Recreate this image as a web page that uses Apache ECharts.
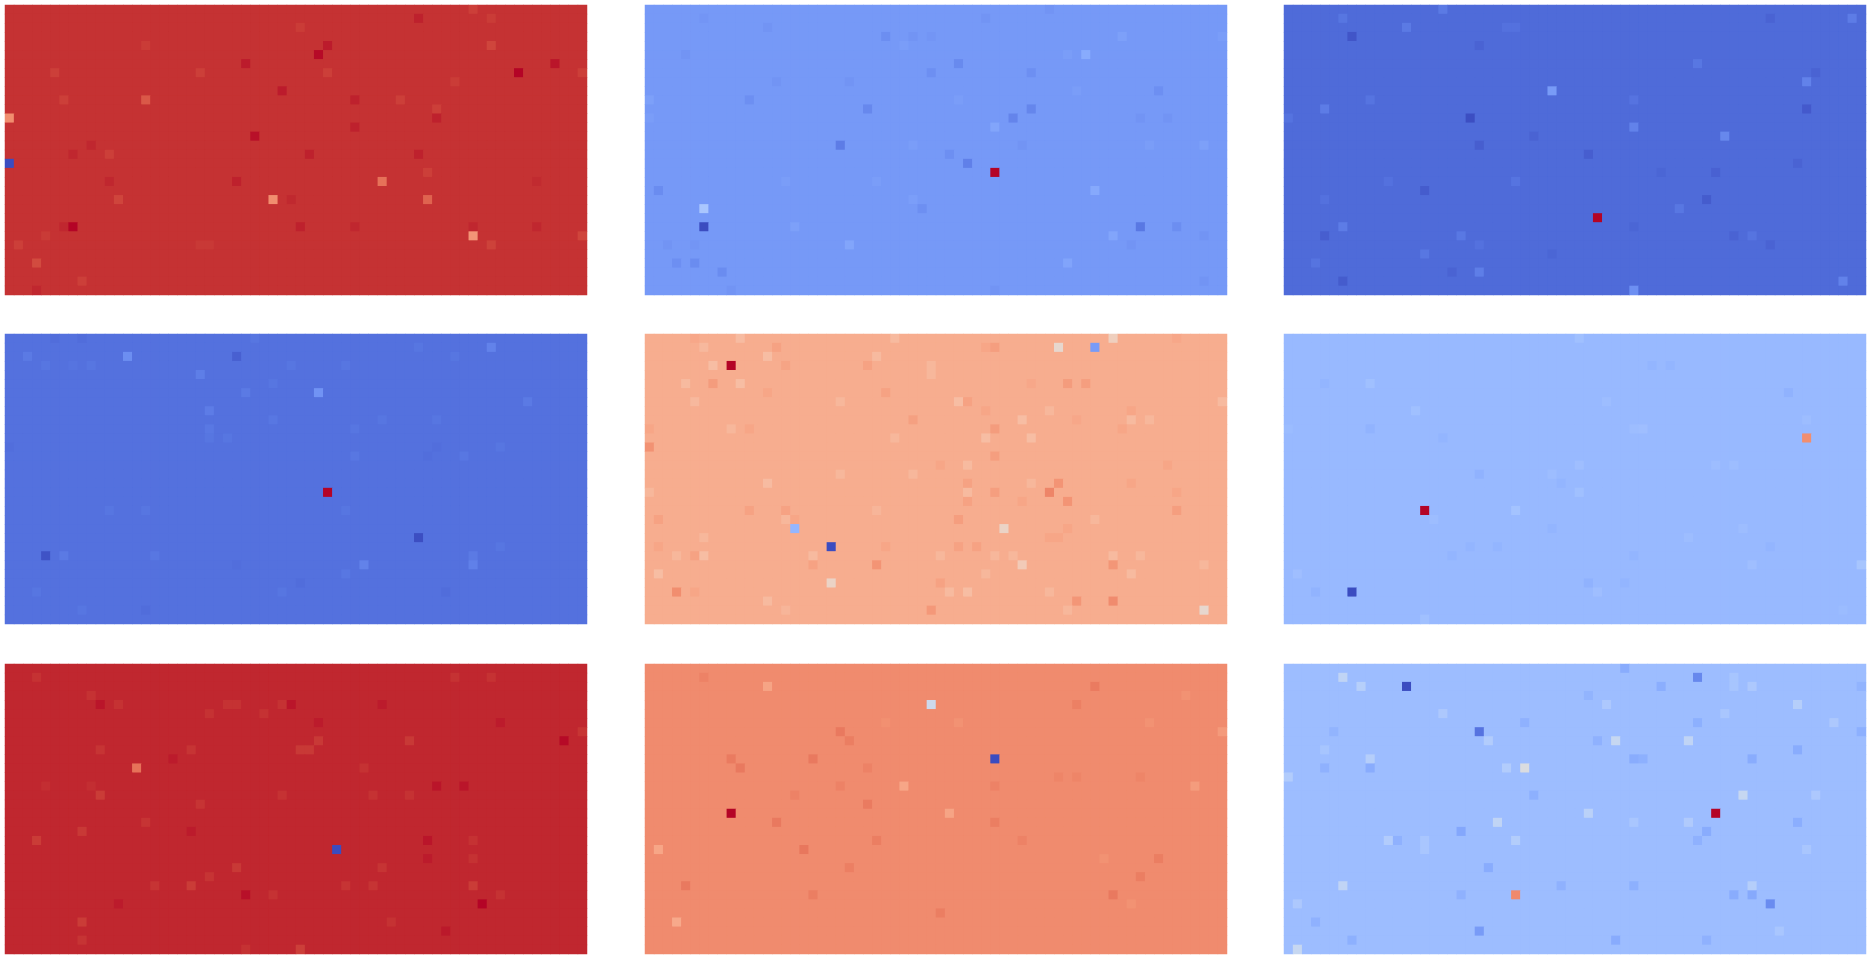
<!DOCTYPE html>
<html>
<head>
<meta charset="utf-8">
<title>heatmaps</title>
<script src="https://cdn.jsdelivr.net/npm/echarts@6/dist/echarts.min.js"></script>
<style>
  html, body { margin: 0; padding: 0; background: #fff; }
  #chart { width: 1875px; height: 961px; }
</style>
</head>
<body>
<div id="chart"></div>
<script>
// matplotlib coolwarm, 0 -> 1
const coolwarm = [
  '#3b4cc0','#445acc','#4d68d7','#5775e1','#6282ea','#6c8ef1','#779af7','#82a5fb',
  '#8db0fe','#98b9ff','#a3c2ff','#aec9fd','#b8d0f9','#c2d5f4','#ccd9ee','#d5dbe6',
  '#dddddd','#e5d8d1','#ecd3c5','#f1ccb9','#f5c4ad','#f7bba0','#f7b194','#f7a687',
  '#f49a7b','#f18d6f','#ec7f63','#e57058','#de604d','#d55042','#cb3e38','#c0282f',
  '#b40426'
]

const colCount = 64
const rowCount = 32

// the value most cells of each panel sit at
const panelBase = [0.955, 0.185, 0.07, 0.085, 0.70, 0.28, 0.97, 0.785, 0.295]

// cells that differ from the base: [col, row, value]
const panel1Cells = [
  [0,12,.78],[0,17,0],[51,25,.76],[29,21,.78],[41,19,.84],[46,21,.87],[15,10,.89],[7,24,1],[56,7,1],[34,5,.995],
  [27,14,.99],[35,4,.98],[60,6,.985],[26,6,.98],[30,9,.98],[38,10,.975],[38,13,.975],[47,12,.975],[45,1,.975],[45,16,.975],
  [33,16,.975],[25,19,.975],[11,19,.97],[9,15,.97],[7,16,.97],[32,24,.975],[38,24,.97],[51,24,.97],[58,24,.97],[6,24,.97],
  [3,31,.97],[31,21,.968],[58,19,.965],[51,0,.935],[53,1,.94],[32,2,.94],[53,4,.925],[15,4,.94],[5,7,.935],[21,7,.935],
  [35,7,.935],[49,8,.94],[63,7,.935],[6,10,.935],[43,10,.935],[47,11,.935],[11,16,.935],[46,18,.935],[12,21,.925],[63,25,.925],
  [53,26,.93],[1,26,.935],[3,28,.915],[8,30,.935],[4,25,.942],[21,26,.945],[22,26,.945]
]
const panel2Cells = [
  [38,18,1],[6,24,0],[6,22,.33],[54,24,.10],[35,17,.12],[21,15,.11],[40,12,.13],[42,11,.135],[24,11,.14],[1,20,.15],
  [34,6,.145],[26,3,.155],[31,7,.16],[42,7,.16],[48,5,.235],[49,20,.23],[51,25,.22],[22,26,.22],[38,13,.22],[0,10,.205],
  [58,24,.155],[30,22,.16],[5,28,.15],[3,28,.16],[8,29,.15],[46,28,.215],[33,16,.16],[16,24,.205],[56,9,.16],[11,10,.16],
  [61,15,.205],[52,3,.205],[63,3,.197],[46,5,.197],[28,4,.197],[29,3,.172],[31,3,.175],[37,1,.172],[44,0,.172],[54,12,.172],
  [57,12,.172],[61,25,.172],[53,26,.172],[2,26,.172],[5,26,.175],[14,8,.172],[22,8,.172],[4,5,.172],[13,2,.172],[6,1,.175],
  [38,31,.172],[9,31,.172],[61,30,.172],[41,15,.172],[55,15,.197],[47,9,.197],[25,19,.197],[15,19,.197],[0,12,.197],[29,21,.2],
  [29,15,.197],[34,10,.197]
]
const panel3Cells = [
  [34,23,1],[29,9,.19],[20,12,.005],[7,3,.02],[57,11,.03],[46,21,.035],[33,16,.04],[21,15,.04],[21,4,.052],[6,30,.035],
  [4,25,.04],[15,20,.035],[27,14,.052],[47,18,.047],[41,18,.057],[56,17,.052],[58,7,.052],[53,26,.052],[49,25,.052],[18,29,.052],
  [53,1,.052],[29,27,.057],[38,24,.057],[48,14,.14],[38,13,.125],[38,31,.16],[57,8,.125],[21,29,.115],[61,30,.125],[6,24,.11],
  [19,25,.1],[17,0,.105],[62,1,.11],[6,1,.095],[13,2,.105],[4,11,.11],[9,10,.092],[15,27,.098],[3,28,.092],[25,19,.092],
  [11,19,.085],[43,22,.098],[45,6,.098],[51,25,.092],[38,10,.09],[4,21,.085],[0,12,.088],[21,26,.085],[24,2,.085],[25,2,.085]
]
const panel4Cells = [
  [35,17,1],[45,22,.005],[4,24,.015],[25,2,.045],[34,6,.17],[13,2,.155],[53,1,.125],[21,4,.115],[22,8,.11],[39,25,.125],
  [51,25,.12],[2,2,.105],[26,6,.105],[22,10,.1],[57,7,.105],[6,24,.105],[16,24,.098],[5,0,.075],[8,0,.075],[0,12,.078],
  [47,12,.078],[46,13,.078],[48,28,.075],[15,30,.075],[32,27,.075],[25,25,.078],[51,24,.105],[37,26,.098],[30,28,.095],[3,28,.095],
  [8,30,.095],[54,12,.095],[47,9,.095],[41,9,.095],[29,9,.098],[38,10,.095],[29,5,.095],[37,3,.095],[31,3,.095],[9,3,.095],
  [4,3,.095],[7,3,.092],[22,11,.095],[24,11,.095],[11,19,.095],[15,19,.095],[37,19,.095],[45,1,.095],[49,2,.095],[27,0,.095],
  [38,13,.098],[50,13,.098],[54,23,.095]
]
const panel5Cells = [
  [9,3,1],[20,23,0],[49,1,.19],[16,21,.27],[45,1,.54],[51,0,.58],[39,21,.56],[20,27,.56],[61,30,.54],[41,25,.6],
  [0,12,.77],[44,17,.80],[45,16,.765],[46,18,.765],[3,28,.78],[25,25,.765],[51,25,.76],[51,29,.785],[47,29,.76],[31,30,.755],
  [7,5,.745],[46,5,.745],[48,5,.74],[38,10,.745],[38,13,.74],[38,1,.74],[37,1,.72],[24,3,.73],[14,1,.73],[15,3,.725],
  [29,9,.735],[26,6,.73],[13,6,.72],[35,7,.73],[37,8,.72],[53,8,.72],[0,10,.72],[11,10,.72],[11,19,.73],[15,19,.73],
  [1,20,.73],[34,20,.74],[16,20,.72],[1,23,.72],[5,24,.73],[34,23,.73],[36,23,.73],[18,25,.73],[26,23,.72],[32,27,.73],
  [5,28,.72],[58,19,.74],[35,18,.73],[38,17,.74],[35,16,.73],[41,18,.72],[58,17,.72],[57,14,.72],[53,16,.72],[52,10,.72],
  [47,9,.715],[42,5,.715],[58,0,.715],[5,0,.715],[32,14,.72],[44,22,.72],[45,22,.72],[46,21,.72],
  [10,0,.655],[6,1,.665],[13,2,.65],[7,3,.65],[25,2,.66],[10,5,.65],[4,5,.66],[5,7,.665],[34,7,.65],[21,7,.67],
  [27,0,.66],[31,3,.67],[31,4,.67],[63,7,.66],[44,8,.67],[41,9,.65],[53,9,.66],[55,9,.67],[37,11,.65],[42,11,.65],
  [9,10,.67],[27,11,.67],[35,14,.66],[21,15,.67],[29,15,.67],[13,16,.655],[0,17,.67],[35,17,.66],[42,16,.67],[25,19,.675],
  [15,20,.67],[49,20,.67],[6,22,.67],[6,24,.65],[3,24,.67],[18,24,.66],[32,24,.67],[38,24,.67],[40,24,.67],[51,24,.66],
  [54,24,.67],[1,26,.65],[53,26,.66],[37,26,.67],[13,29,.66],[33,28,.66],[35,28,.65],[44,28,.67],[46,30,.67],[61,25,.67],
  [15,30,.675]
]
const panel6Cells = [
  [15,19,1],[7,28,0],[57,11,.78],[21,15,.258],[33,27,.258],[55,6,.258],[9,10,.262],[25,19,.315],[63,25,.325],[32,0,.305],
  [32,17,.305],[32,14,.3],[9,5,.305],[14,8,.305],[39,10,.3],[38,10,.295],[47,14,.295],[49,14,.295],[3,28,.262],[37,27,.268],
  [34,28,.3],[1,26,.3],[15,31,.305],[51,25,.3],[57,9,.295],[35,7,.295],[50,21,.295],[44,22,.295],[29,15,.295],[30,16,.268],
  [29,21,.268],[4,5,.268],[17,11,.268],[42,3,.268],[40,3,.268],[53,23,.268],[38,24,.268],[18,24,.268],[20,23,.268],[23,23,.268],
  [61,30,.29],[0,10,.29],[16,20,.295]
]
const panel7Cells = [
  [36,20,0],[52,26,1],[14,11,.84],[61,8,.995],[26,25,.99],[47,13,.985],[50,13,.985],[31,4,.985],[10,4,.985],[46,19,.985],
  [48,29,.982],[46,21,.98],[54,6,.98],[34,6,.98],[41,4,.98],[12,26,.98],[20,18,.98],[18,10,.98],
  [32,31,.935],[3,19,.94],[8,28,.94],[8,18,.945],[10,14,.94],[20,24,.94],[51,24,.94],[25,22,.945],[32,9,.945],[33,9,.945],
  [34,8,.945],[44,8,.945],[63,7,.95],[39,11,.955],[16,24,.952],[37,24,.952],[40,24,.952],[41,22,.952],[22,23,.952],[20,9,.952],
  [10,9,.952],[53,1,.955],[49,1,.955],[3,1,.955],[24,4,.955],[25,4,.955],[22,5,.955],[28,5,.955],[30,4,.955],[12,4,.955],
  [9,3,.955],[21,15,.952],[15,17,.952],[30,14,.955],[40,14,.955],[44,14,.955],[51,19,.955],[51,21,.955],[42,28,.955],[26,31,.955],
  [8,30,.952],[54,25,.955],[29,25,.955],[4,13,.96],[9,13,.96]
]
const panel8Cells = [
  [9,16,1],[38,10,0],[31,4,.44],[1,20,.72],[28,13,.72],[33,16,.725],[3,28,.71],[13,2,.725],[63,7,.75],[60,13,.745],
  [49,2,.82],[51,25,.825],[4,24,.825],[14,17,.825],[17,20,.83],[38,17,.815],[21,7,.825],[9,10,.82],[18,10,.825],[10,11,.825],
  [24,15,.82],[22,8,.815],[56,21,.815],[54,23,.815],[18,25,.815],[25,19,.815],[22,22,.812],[32,27,.815],[47,4,.81],[6,1,.805],
  [16,14,.805],[21,13,.805],[38,13,.805],[41,19,.805],[24,11,.805],[45,12,.8],[47,12,.8],[54,12,.8],
  [26,6,.775],[34,6,.77],[55,6,.77],[50,21,.77],[53,26,.77],[59,3,.77]
]
const panel9Cells = [
  [47,16,1],[13,2,0],[25,25,.79],[26,11,.49],[21,7,.09],[45,1,.14],[53,26,.15],[21,29,.19],[36,8,.42],[44,8,.40],
  [6,1,.40],[8,2,.37],[50,14,.42],[33,16,.38],[23,17,.40],[25,19,.36],[6,24,.40],[1,31,.42],[51,24,.365],[56,4,.365],
  [9,10,.365],[0,12,.355],[24,11,.355],[22,8,.355],[11,19,.355],[60,6,.34],[35,4,.34],[17,5,.34],[48,5,.33],[44,17,.35],
  [1,26,.34],[51,2,.34],[58,14,.34],[38,17,.33],[4,9,.325],[57,20,.33],[54,29,.33],[15,19,.33],[15,20,.33],[49,1,.325],[49,2,.325],
  [37,0,.24],[41,2,.245],[26,6,.255],[45,6,.25],[34,8,.255],[38,10,.24],[39,10,.25],[51,10,.24],[56,9,.24],[9,11,.24],
  [4,11,.255],[27,14,.25],[19,18,.225],[46,18,.24],[56,17,.245],[22,22,.24],[38,24,.25],[30,24,.255],[49,25,.24],[51,25,.23],
  [19,25,.255],[63,7,.25],[3,28,.255],[7,30,.25],[36,30,.235],[46,30,.255],[45,19,.255],[12,19,.255],[33,3,.265],[63,2,.265],[5,7,.265]
]

const panelCells = [panel1Cells, panel2Cells, panel3Cells, panel4Cells, panel5Cells, panel6Cells, panel7Cells, panel8Cells, panel9Cells]

const gridLefts = [5, 645, 1284]
const gridTops = [5, 334, 664]
const gridWidth = 582
const gridHeight = 290

const colNames = Array.from({length: colCount}, (_, i) => i)
const rowNames = Array.from({length: rowCount}, (_, i) => i)

function panelData(base, cells) {
  const values = rowNames.map(() => colNames.map(() => base))
  cells.forEach(c => { values[c[1]][c[0]] = c[2] })
  const out = []
  rowNames.forEach(r => colNames.forEach(c => out.push([c, r, values[r][c]])))
  return out
}

const grids = [], xAxes = [], yAxes = [], series = []
panelBase.forEach((base, i) => {
  grids.push({
    left: gridLefts[i % 3],
    top: gridTops[Math.floor(i / 3)],
    width: gridWidth,
    height: gridHeight,
    // same colour as the base cells, otherwise white shows through between cells
    show: true,
    borderWidth: 0,
    backgroundColor: echarts.color.lerp(base, coolwarm)
  })
  xAxes.push({type: 'category', gridIndex: i, data: colNames, show: false})
  yAxes.push({type: 'category', gridIndex: i, data: rowNames, inverse: true, show: false})
  series.push({
    type: 'heatmap',
    xAxisIndex: i,
    yAxisIndex: i,
    data: panelData(base, panelCells[i]),
    progressive: 0,
    emphasis: {disabled: true}
  })
})

const myChart = echarts.init(document.getElementById('chart'))
myChart.setOption({
  animation: false,
  backgroundColor: '#fff',
  tooltip: {show: false},
  grid: grids,
  xAxis: xAxes,
  yAxis: yAxes,
  visualMap: {
    show: false,
    type: 'continuous',
    min: 0,
    max: 1,
    dimension: 2,
    inRange: {color: coolwarm}
  },
  series: series
})
</script>
</body>
</html>
